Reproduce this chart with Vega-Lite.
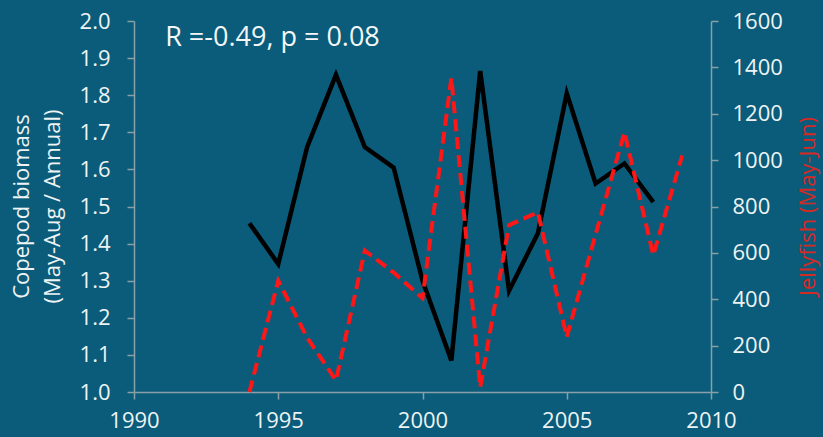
{
  "$schema": "https://vega.github.io/schema/vega-lite/v6.json",
  "width": 577,
  "height": 371,
  "autosize": {"type": "none"},
  "padding": {"left": 134, "top": 21, "right": 112, "bottom": 45},
  "background": "#0a5c7a",
  "config": {
    "view": {"stroke": null},
    "font": "Open Sans",
    "axis": {
      "grid": false,
      "domainColor": "#8aa0a8",
      "domainWidth": 1.5,
      "tickColor": "#8aa0a8",
      "tickWidth": 1.5,
      "tickSize": 7,
      "labelColor": "#eef3f4",
      "labelFont": "Open Sans",
      "labelFontSize": 22,
      "titleFont": "Open Sans",
      "titleFontWeight": "normal",
      "titleFontSize": 22
    }
  },
  "datasets": {
    "series": [
      {"year": 1994, "copepod": 1.455, "jellyfish": 0},
      {"year": 1995, "copepod": 1.345, "jellyfish": 480},
      {"year": 1996, "copepod": 1.66, "jellyfish": 235},
      {"year": 1997, "copepod": 1.855, "jellyfish": 50},
      {"year": 1998, "copepod": 1.66, "jellyfish": 610},
      {"year": 1999, "copepod": 1.605, "jellyfish": 515},
      {"year": 2000, "copepod": 1.3, "jellyfish": 405},
      {"year": 2001, "copepod": 1.085, "jellyfish": 1355},
      {"year": 2002, "copepod": 1.865, "jellyfish": 20},
      {"year": 2003, "copepod": 1.273, "jellyfish": 720},
      {"year": 2004, "copepod": 1.428, "jellyfish": 775},
      {"year": 2005, "copepod": 1.805, "jellyfish": 237},
      {"year": 2006, "copepod": 1.562, "jellyfish": 680},
      {"year": 2007, "copepod": 1.616, "jellyfish": 1120},
      {"year": 2008, "copepod": 1.512, "jellyfish": 590},
      {"year": 2009, "copepod": null, "jellyfish": 1020}
    ],
    "stats": [
      {"year": 1994.8, "ratio": 1.953, "label": "R =-0.49, p = 0.08"}
    ]
  },
  "layer": [
    {
      "data": {"name": "series"},
      "mark": {"type": "line", "color": "#000000", "strokeWidth": 4.5, "strokeJoin": "miter"},
      "encoding": {
        "x": {
          "field": "year",
          "type": "quantitative",
          "scale": {"domain": [1990, 2010], "nice": false, "zero": false},
          "axis": {
            "title": null,
            "values": [1990, 1995, 2000, 2005, 2010],
            "format": "d",
            "labelPadding": 11,
            "labelFlush": false
          }
        },
        "y": {
          "field": "copepod",
          "type": "quantitative",
          "scale": {"domain": [1, 2], "nice": false, "zero": false},
          "axis": {
            "orient": "left",
            "values": [1, 1.1, 1.2, 1.3, 1.4, 1.5, 1.6, 1.7, 1.8, 1.9, 2],
            "format": ".1f",
            "labelPadding": 17,
            "labelFlush": false,
            "title": ["Copepod biomass", "(May-Aug / Annual)"],
            "titleColor": "#eef3f4",
            "titleAngle": 270,
            "titleAlign": "center",
            "titleBaseline": "middle",
            "titleLineHeight": 31,
            "titleX": -113,
            "titleY": 185
          }
        }
      }
    },
    {
      "data": {"name": "series"},
      "mark": {"type": "line", "color": "#ff1616", "strokeWidth": 4, "strokeDash": [12, 6], "strokeJoin": "miter"},
      "encoding": {
        "x": {"field": "year", "type": "quantitative"},
        "y": {
          "field": "jellyfish",
          "type": "quantitative",
          "scale": {"domain": [0, 1600], "nice": false},
          "axis": {
            "orient": "right",
            "values": [0, 200, 400, 600, 800, 1000, 1200, 1400, 1600],
            "format": "d",
            "labelPadding": 14,
            "labelFlush": false,
            "title": "Jellyfish (May-Jun)",
            "titleColor": "#d42a24",
            "titleAngle": 270,
            "titleAlign": "center",
            "titleBaseline": "middle",
            "titleX": 96,
            "titleY": 185
          }
        }
      }
    },
    {
      "data": {"name": "stats"},
      "mark": {"type": "text", "color": "#f4f7f8", "font": "Open Sans", "fontSize": 27, "align": "center", "baseline": "middle"},
      "encoding": {
        "x": {"field": "year", "type": "quantitative"},
        "y": {"field": "ratio", "type": "quantitative", "scale": {"domain": [1, 2], "nice": false, "zero": false}, "axis": null},
        "text": {"field": "label", "type": "nominal"}
      }
    }
  ],
  "resolve": {"scale": {"y": "independent"}}
}
